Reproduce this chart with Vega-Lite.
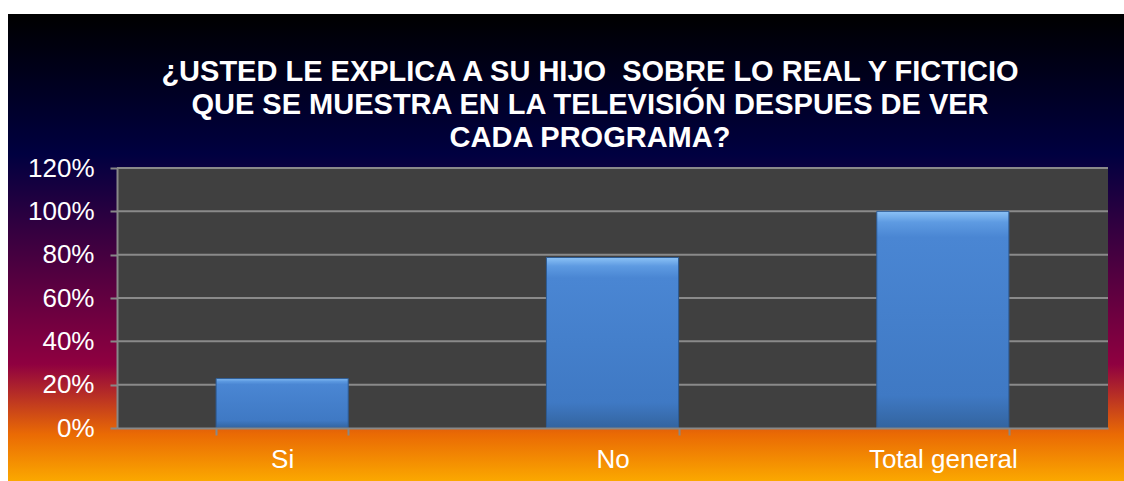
{
  "$schema": "https://vega.github.io/schema/vega-lite/v6.json",
  "width": 1116,
  "height": 467,
  "autosize": "none",
  "padding": {"left": 8, "top": 14, "right": 0, "bottom": 0},
  "background": "white",
  "view": {
    "stroke": null,
    "fill": {
      "gradient": "linear", "x1": 0, "y1": 0, "x2": 0, "y2": 1,
      "stops": [
        {"offset": 0, "color": "#000000"},
        {"offset": 0.3, "color": "#000040"},
        {"offset": 0.5, "color": "#400040"},
        {"offset": 0.75, "color": "#8f0040"},
        {"offset": 0.9, "color": "#ea6a04"},
        {"offset": 1, "color": "#fba800"}
      ]
    }
  },
  "title": {
    "text": ["¿USTED LE EXPLICA A SU HIJO \u00a0SOBRE LO REAL Y FICTICIO", "QUE SE MUESTRA EN LA TELEVISIÓN DESPUES DE VER", "CADA PROGRAMA?"],
    "anchor": "middle",
    "frame": "group",
    "orient": "top",
    "baseline": "top",
    "offset": -139,
    "dx": 24,
    "font": "Liberation Sans",
    "fontSize": 29,
    "fontWeight": "bold",
    "color": "#ffffff",
    "lineHeight": 33
  },
  "datasets": {
    "respuestas": [
      {"respuesta": "Si", "v": 0.228},
      {"respuesta": "No", "v": 0.787},
      {"respuesta": "Total general", "v": 1.0}
    ],
    "area": [{"x0": 0, "x1": 1, "v": 0, "v2": 1.2}],
    "rejilla": [{"v": 0.2}, {"v": 0.4}, {"v": 0.6}, {"v": 0.8}, {"v": 1.0}, {"v": 1.2}]
  },
  "encoding": {
    "y": {
      "field": "v",
      "type": "quantitative",
      "scale": {"domain": [0, 1.2], "range": [414, 154], "nice": false, "zero": true},
      "axis": {
        "orient": "left",
        "offset": -109,
        "values": [0, 0.2, 0.4, 0.6, 0.8, 1, 1.2],
        "format": ".0%",
        "grid": false,
        "title": null,
        "zindex": 1,
        "domainColor": "#888888",
        "domainWidth": 2,
        "tickColor": "#888888",
        "tickWidth": 2,
        "tickSize": 7,
        "labelPadding": 16,
        "labelFont": "Liberation Sans",
        "labelFontSize": 26,
        "labelColor": "#ffffff"
      }
    }
  },
  "layer": [
    {
      "layer": [
        {
          "data": {"name": "area"},
          "mark": {"type": "rect", "fill": "#404040"},
          "encoding": {
            "x": {"field": "x0", "type": "quantitative", "scale": {"domain": [0, 1], "range": [109, 1100], "nice": false, "zero": false}, "axis": null},
            "x2": {"field": "x1"},
            "y2": {"field": "v2"}
          }
        },
        {
          "data": {"name": "rejilla"},
          "mark": {"type": "rule", "stroke": "#8a8a8a", "strokeWidth": 2},
          "encoding": {
            "x": {"datum": 0, "type": "quantitative", "axis": null},
            "x2": {"datum": 1}
          }
        }
      ]
    },
    {
      "data": {"name": "respuestas"},
      "mark": {
        "type": "bar",
        "stroke": "#2d5b94",
        "strokeWidth": 1,
        "fill": {
          "gradient": "linear", "x1": 0, "y1": 0, "x2": 0, "y2": 1,
          "stops": [
            {"offset": 0, "color": "#8cc2f6"},
            {"offset": 0.05, "color": "#5e9be2"},
            {"offset": 0.12, "color": "#4a86d3"},
            {"offset": 0.85, "color": "#3f79c4"},
            {"offset": 1, "color": "#33649f"}
          ]
        }
      },
      "encoding": {
        "x": {
          "field": "respuesta",
          "type": "nominal",
          "sort": null,
          "scale": {"range": [109, 1100], "paddingInner": 0.6, "paddingOuter": 0.3},
          "axis": {
            "orient": "bottom",
            "offset": -53,
            "tickBand": "extent",
            "title": null,
            "zindex": 1,
            "labelAngle": 0,
            "domainColor": "#888888",
            "domainWidth": 2,
            "tickColor": "#888888",
            "tickWidth": 2,
            "tickSize": 7,
            "labelPadding": 11,
            "labelFont": "Liberation Sans",
            "labelFontSize": 26,
            "labelColor": "#ffffff"
          }
        }
      }
    }
  ],
  "resolve": {"scale": {"x": "independent"}}
}
